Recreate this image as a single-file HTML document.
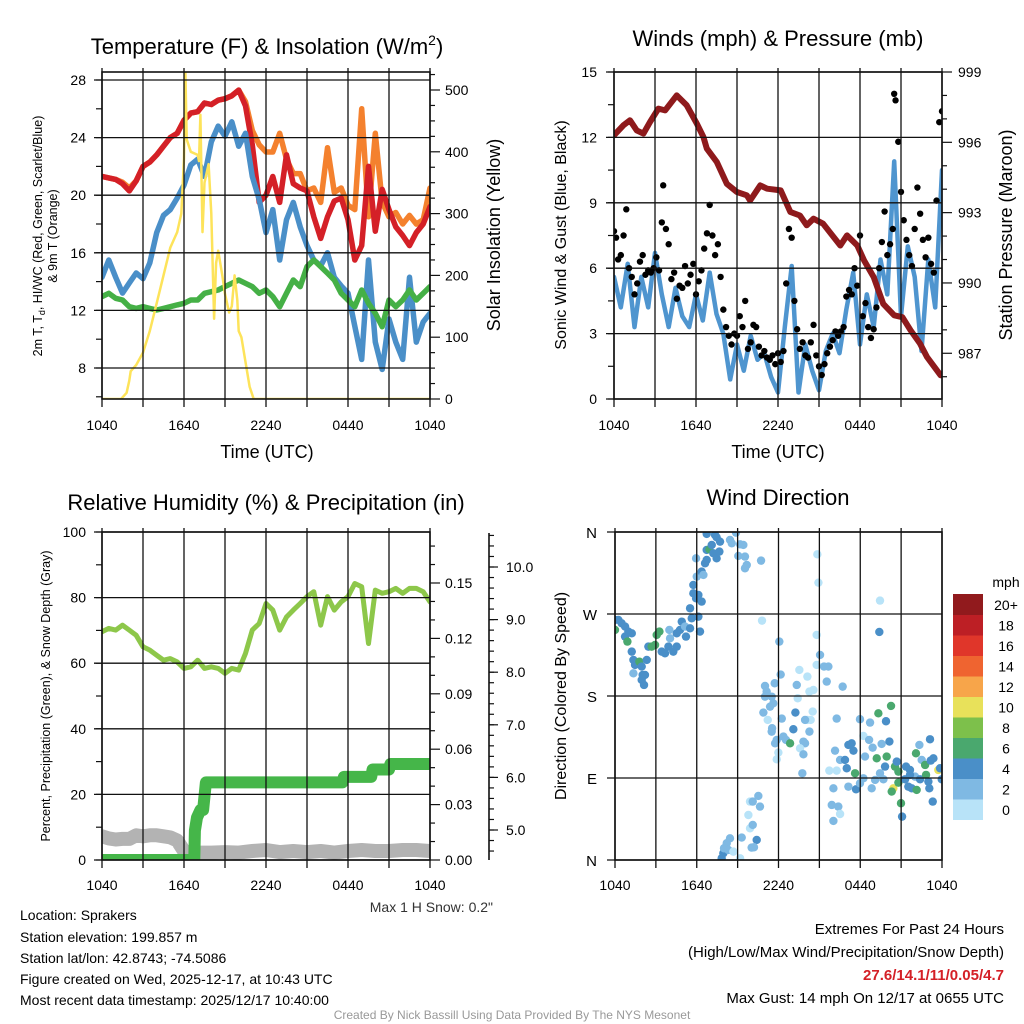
<!DOCTYPE html>
<html><head><meta charset="utf-8"><style>
html,body{margin:0;padding:0;background:#fff;}
svg{display:block;font-family:"Liberation Sans",sans-serif;}
</style></head><body>
<svg id="chart" width="1024" height="1024" viewBox="0 0 1024 1024" xmlns="http://www.w3.org/2000/svg">
<rect width="1024" height="1024" fill="#fff"/>
<defs>
<clipPath id="c1"><rect x="102" y="72" width="328" height="327"/></clipPath>
<clipPath id="c2"><rect x="614" y="72" width="328" height="327"/></clipPath>
<clipPath id="c3"><rect x="102" y="532" width="328" height="328"/></clipPath>
<clipPath id="c4"><rect x="615" y="532" width="327" height="328"/></clipPath>
</defs>
<g font-size="22" fill="#000" text-anchor="middle">
<text x="267" y="54">Temperature (F) &amp; Insolation (W/m<tspan font-size="14" dy="-9">2</tspan><tspan dy="9">)</tspan></text>
<text x="778" y="46">Winds (mph) &amp; Pressure (mb)</text>
<text x="266" y="510">Relative Humidity (%) &amp; Precipitation (in)</text>
<text x="778" y="505">Wind Direction</text>
</g>
<g font-size="18" text-anchor="middle">
<text x="267" y="458">Time (UTC)</text>
<text x="778" y="458">Time (UTC)</text>
<text transform="translate(500,235) rotate(-90)">Solar Insolation (Yellow)</text>
<text transform="translate(1012,235) rotate(-90)">Station Pressure (Maroon)</text>
</g>
<g font-size="16" text-anchor="middle">
<text transform="translate(566,235) rotate(-90)">Sonic Wind &amp; Gust (Blue, Black)</text>
<text transform="translate(566,696) rotate(-90)">Direction (Colored By Speed)</text>
</g>
<g font-size="12.5" text-anchor="middle">
<text transform="translate(42,236) rotate(-90)">2m T, T<tspan font-size="9" dy="3">d</tspan><tspan dy="-3">, HI/WC (Red, Green, Scarlet/Blue)</tspan></text>
<text transform="translate(57,236) rotate(-90)">&amp; 9m T (Orange)</text>
<text transform="translate(50,696) rotate(-90)">Percent, Precipitation (Green), &amp; Snow Depth (Gray)</text>
</g>
<g font-size="14">
<text x="493" y="912" text-anchor="end" fill="#333">Max 1 H Snow: 0.2"</text>
<text x="20" y="920">Location: Sprakers</text>
<text x="20" y="942">Station elevation: 199.857 m</text>
<text x="20" y="963">Station lat/lon: 42.8743; -74.5086</text>
<text x="20" y="984">Figure created on Wed, 2025-12-17, at 10:43 UTC</text>
<text x="20" y="1005">Most recent data timestamp: 2025/12/17 10:40:00</text>
<text x="1004" y="934" text-anchor="end" font-size="15">Extremes For Past 24 Hours</text>
<text x="1004" y="957" text-anchor="end" font-size="15">(High/Low/Max Wind/Precipitation/Snow Depth)</text>
<text x="1004" y="980" text-anchor="end" font-size="15" font-weight="bold" fill="#d42027">27.6/14.1/11/0.05/4.7</text>
<text x="1004" y="1003" text-anchor="end" font-size="15">Max Gust: 14 mph On 12/17 at 0655 UTC</text>
<text x="512" y="1019" text-anchor="middle" font-size="12" fill="#999">Created By Nick Bassill Using Data Provided By The NYS Mesonet</text>
</g>
</svg>
<script>
// ---------- DATA ----------
const hourTicks = ["1040","1640","2240","0440","1040"];
const halfHours = [];
for (let i = 0; i <= 48; i++) halfHours.push(i * 0.5);
const tempRed = [21.3,21.2,21.1,20.8,20.3,21,22,22.3,22.8,23.4,24,24.3,25.2,25.7,25.8,26.4,26.3,26.6,26.7,26.9,27.3,26.2,23.5,19.5,20,21.3,19.5,22.8,20.8,20.5,20.3,18.5,17,18.5,19.6,19.8,18.3,15.5,16.5,22,17.5,20.4,19,17.8,17.2,16.5,17.4,18,19.2];
const tempOrange = [21.3,21.2,21.1,20.9,20.5,21,22,22.3,22.8,23.4,24,24.3,25.2,25.7,25.8,26.4,26.3,26.6,26.7,26.9,27.3,26.5,24.5,23.5,23,23,24.3,22.5,21.5,21.5,20.3,20.5,19.5,23.3,20.2,20.5,19.3,19,26,18.5,24.3,19.5,18.5,18.8,18,18.6,18,18.3,20.5];
const tempBlue = [14.3,15.5,14.3,13.2,13.9,14.6,14.2,15.3,17.4,18.6,19,19.8,20.7,22.1,22.5,21.3,23.7,24.8,24.1,25.1,23.4,24.3,21.3,19.7,17.4,19,15.5,18.3,19.5,17.8,16.5,15.5,15.1,16,14.3,13.7,13.2,10.9,8.6,15.5,9.8,7.9,11.4,9.8,8.6,14.3,9.8,11.2,11.8];
const tempGreen = [12.96,13.19,12.84,12.72,12.26,12.14,12.26,12.14,12.03,12.14,12.26,12.38,12.49,12.72,12.72,13.19,13.3,13.42,13.65,13.88,14.11,13.88,13.65,13.19,13.42,12.96,12.26,13.19,14.11,13.65,15.04,15.5,15.04,14.58,14.11,13.19,12.72,12.26,13.42,12.49,11.8,10.87,12.72,12.26,12.72,13.42,12.72,13.19,13.65];
const solarTimes = [0,1.4,1.8,2.0,2.1,2.5,3.0,3.5,4.0,4.5,5.0,5.5,5.8,6.0,6.1,6.2,6.5,7.0,7.1,7.2,7.35,7.5,7.8,8.0,8.2,8.35,8.5,8.8,9.0,9.3,9.5,9.7,9.9,10.0,10.2,10.5,10.8,11.1,24];
const solarValues = [0,0,10,30,45,55,75,110,155,200,245,270,300,390,530,420,400,395,385,460,270,350,380,300,130,220,240,200,170,140,150,200,160,110,100,60,20,0,0];

const windSpeed = [5.6,4.2,6.2,3.3,5.6,4.2,6.7,4.8,3.3,5.1,3.8,3.3,4.8,3.6,5.8,3.9,3.0,0.9,2.5,1.3,2.9,1.8,2.1,1.0,0.3,3.3,6.1,0.3,2.5,1.3,0.4,2.2,3.0,2.1,4.1,5.8,2.5,4.8,3.3,6.4,4.8,10.9,3.8,7.0,5.6,2.2,6.4,4.2,10.5];
const gustTimes = [0,0.15,0.3,0.5,0.7,0.9,1.1,1.3,1.5,1.7,1.9,2.1,2.3,2.5,2.7,2.9,3.1,3.3,3.5,3.6,3.8,4.0,4.2,4.4,4.6,4.8,5.0,5.2,5.4,5.6,5.8,6.0,6.2,6.4,6.6,6.8,7.0,7.2,7.4,7.6,7.8,8.0,8.2,8.4,8.6,8.8,9.0,9.2,9.4,9.6,9.8,10.0,10.2,10.4,10.6,10.8,11.0,11.2,11.4,11.6,11.8,12.0,12.2,12.4,12.6,12.8,13.0,13.2,13.4,13.6,13.8,14.0,14.2,14.4,14.6,14.8,15.0,15.2,15.4,15.6,15.8,16.0,16.2,16.4,16.6,16.8,17.0,17.2,17.4,17.6,17.8,18.0,18.2,18.4,18.6,18.8,19.0,19.2,19.4,19.6,19.8,20.0,20.2,20.4,20.5,20.6,20.8,21.0,21.2,21.4,21.6,21.8,22.0,22.2,22.4,22.6,22.8,23.0,23.2,23.4,23.6,23.8,24.0];
const gustValues = [7.7,7.4,6.4,6.6,7.5,8.7,6.0,5.6,4.8,5.3,6.3,6.6,5.7,5.9,5.8,6.0,6.5,5.9,8.1,9.8,7.8,7.1,5.5,5.8,4.6,5.2,5.1,6.1,5.3,5.7,6.2,4.8,5.4,5.9,6.9,7.6,8.9,7.5,6.6,7.1,5.6,4.1,3.3,2.9,2.5,3.0,2.9,3.8,3.3,4.5,2.3,2.6,3.4,3.3,2.4,2.0,2.2,1.9,1.8,2.0,1.6,2.1,1.7,2.2,5.3,7.8,7.4,4.5,3.2,2.3,2.6,2.0,1.9,2.6,3.4,2.0,1.5,1.1,1.6,2.1,2.4,2.7,3.1,2.9,3.1,3.3,4.7,5.0,4.8,6.0,5.2,7.5,3.8,4.4,3.3,2.8,3.2,4.2,6.0,7.2,8.6,6.6,7.1,7.8,14.0,13.7,11.8,9.5,8.2,7.3,6.6,6.1,7.8,9.7,8.5,7.3,6.5,7.4,6.2,5.8,9.1,12.7,13.2];
const pressureTimes = [0,0.68,1.17,1.66,2.15,2.64,3.25,3.74,4.59,5.32,6.06,6.54,6.79,7.52,8.25,8.99,9.72,9.96,10.7,11.2,12.2,12.9,13.6,14.1,14.6,15.3,16.56,17.05,17.8,18.3,19.0,19.7,20.5,21.1,21.7,22.4,22.9,23.9];
const pressureValues = [996.3,996.72,996.94,996.51,996.37,996.87,997.44,997.36,998.0,997.58,996.8,996.23,995.73,995.16,994.23,993.88,993.74,993.52,994.16,994.02,993.95,993.03,992.88,992.46,992.74,992.53,991.6,992.03,991.6,990.96,990.25,989.11,988.62,988.54,987.98,987.41,986.84,986.06];

const rhValues = [69.6,70.6,70.1,71.6,70.1,68.5,65,64,62.4,60.9,61.4,60.4,58.4,58.9,60.9,58.4,58.9,58.4,56.9,58.4,57.9,63,70.1,72.1,78.2,76.2,70.1,74.1,76.2,78.2,80.3,81.8,71.6,80.3,76.2,78.7,80.3,84.3,83.3,66,82.3,81.3,81.8,82.8,81.3,82.8,82.8,81.8,78.7];
const precipTimes = [0,6.75,6.8,6.95,7.2,7.4,7.6,17.6,17.7,19.7,19.8,21.0,21.1,24];
const precipValues = [0,0,0.016,0.023,0.027,0.027,0.042,0.042,0.045,0.045,0.049,0.049,0.052,0.052];
const snowTimes = [0,0.5,1,1.5,2,2.5,3,3.5,4,4.5,5,5.5,6,6.5,7,8,9,10,11,12,13,14,15,16,17,18,19,20,21,22,23,24];
const snowValues = [4.88,4.84,4.82,4.83,4.83,4.9,4.88,4.9,4.9,4.88,4.86,4.8,4.6,4.57,4.57,4.57,4.58,4.57,4.6,4.62,4.58,4.6,4.58,4.6,4.57,4.6,4.62,4.6,4.6,4.62,4.62,4.6];

const dirTimes = [0,0.25,0.49,0.74,0,0.74,0.98,1.23,0.91,1.23,1.35,1.47,1.35,1.79,1.96,2.03,2.2,1.96,2.13,2.33,2.45,2.69,2.94,3.06,3.26,3.43,3.67,3.92,4.04,3.99,4.28,4.53,4.53,4.77,4.9,5.14,5.21,5.51,5.63,5.51,6.12,6.24,5.95,5.75,6.12,6.36,5.75,6,6.36,6.49,6.61,6.73,5.95,6.73,6.93,7.1,7.22,7.46,7.66,6.73,7.34,7.46,7.71,8.44,8.57,8.88,9.18,9.42,9.05,9.54,9.54,9.67,10.72,14.85,14.93,19.45,19.4,10.79,
12.06,14.8,15.05,14.8,15.34,15.66,15.54,16.71,12.16,11.72,11.01,11.13,11.01,11.5,11.62,11.38,10.89,11.21,12.24,11.53,11.5,11.87,11.75,11.99,11.87,12.36,12.55,12.85,13.09,13.24,13.41,13.53,13.34,14.12,14.27,14.56,14.51,14.36,14.12,13.95,14.27,13.83,13.95,13.58,13.83,13.75,
7.83,7.95,8.2,8,8.32,8.69,8.44,9.18,9.3,9.91,10.11,9.79,9.91,10.11,10.52,10.64,10.4,10.03,10.2,
15.73,16.27,16.03,15.91,16.39,16.03,16.52,16.15,16.27,16.52,16.88,17.01,17.13,17.37,17.5,17.13,17.62,17.69,17.98,18.23,18.35,17.98,18.23,18.72,18.65,18.91,18.84,19.21,19.33,19.57,19.89,19.94,19.82,20.14,20.26,20.43,20.31,20.55,20.68,20.8,20.8,20.99,21.07,21.29,21.36,21.65,21.53,21.78,22.02,22.14,22.09,22.34,22.39,22.51,22.76,22.83,23,23.07,23.12,23.17,23.32,23.37,23.73,23.86,23.98,19.09,19.45,19.7,21.65];
const dirDegrees = [263.5,263.5,259.8,256.2,252.5,245.2,250.7,248.8,239.7,228.7,219.6,214.1,204.9,217.7,212.3,203.1,203.1,197.6,192.1,219.6,234.2,234.2,236,247,250.7,228.7,226.9,234.2,243.3,252.5,228.7,234.2,248.8,252.5,261.6,256.2,245.2,254.3,265.3,276.3,267.1,250.7,287.2,292.7,290.9,283.6,301.9,311,316.5,312.9,325.7,329.3,331.1,340.3,341,345.8,336.6,331.1,338.5,357.9,356.8,354.2,349.4,351.3,347.6,359.3,346.5,345.8,333.7,333,320.2,323.8,328.6,335.5,304.4,284.7,250.3,262.7,
239.7,247,225.1,214.1,212.3,212.3,195.8,190.3,203.5,194,191,184.8,179.3,179.3,172,168.3,161.8,153.7,155.2,144.6,140.9,131.8,128.1,117.9,110.5,135.4,131.8,128.1,143.5,161.8,177.5,208.6,192.1,201.3,184.8,186.6,162.9,153.7,153.7,153.7,140.9,129.9,128.1,122.6,116,95.2,
1.9,7.4,18.4,12.9,11,9.2,23.8,1.9,24.6,34.8,38.5,49.4,64.1,64.1,70.3,58.6,22,13.6,14,
98.1,98.1,78.7,60.4,58.6,42.9,50.5,120,155.2,109.8,109.8,100.7,126.3,128.1,120,80.5,95.2,77.6,154.5,136.2,113.5,84.2,89.7,150.8,131.8,123.3,78.7,111.6,161,127.4,152.3,113.5,102.5,130,169.1,78.7,75.1,102.5,108,97,84.9,62.3,47.6,88.6,102.5,98.8,80.5,78.7,91.5,76.9,117.1,126.3,88.6,109.8,104.3,93.4,86,78.7,132.5,109.1,64.1,111.6,98.8,100.7,88.6,87.9,95.2,88.6,93.4];
const dirSpeeds = [4.5,4.5,4.5,4.5,6.5,4.5,4.5,4.5,6.5,4.5,4.5,4.5,3,6.5,4.5,4.5,4.5,4.5,4.5,4.5,4.5,6.5,6.5,6.5,6.5,4.5,4.5,4.5,3,3,4.5,4.5,4.5,4.5,4.5,3,4.5,4.5,4.5,4.5,4.5,4.5,4.5,4.5,4.5,4.5,4.5,3,4.5,3,4.5,4.5,3,4.5,6.5,4.5,4.5,4.5,4.5,4.5,4.5,4.5,4.5,3,3,3,3,3,3,3,3,3,3,1,1,1,4.5,1,
3,1,3,1,3,3,3,3,3,3,3,3,3,3,3,3,3,1,3,3,3,3,3,1,1,3,3,6.5,4.5,4.5,1,1,3,1,1,1,1,1,1,3,3,3,3,1,3,3,
4.5,4.5,3,3,3,1,3,1,3,1,3,1,1,3,3,3,4.5,3,3,
1,1,3,3,3,3,1,3,3,3,4.5,4.5,4.5,4.5,4.5,3,6.5,4.5,3,1,3,3,3,3,3,3,3,6.5,6.5,3,4.5,6.5,4.5,4.5,6.5,10.5,6.5,6.5,4.5,6.5,6.5,6.5,4.5,4.5,4.5,4.5,4.5,4.5,3,6.5,6.5,3,4.5,3,6.5,6.5,4.5,4.5,4.5,4.5,4.5,4.5,10.5,4.5,4.5,3,3,3,4.5];
const speedBinLabels = ["0","2","4","6","8","10","12","14","16","18","20+"];
const speedBinColors = ["#b8e3f8","#7fb9e3","#4a8fc8","#4aa86e","#7dc04b","#e8e15a","#f7a54a","#ef6430","#e0362a","#bd1f25","#911a1d"];

// ---------- HELPERS ----------
const NS = "http://www.w3.org/2000/svg";
const svg = document.getElementById('chart');
function mk(tag, attrs, parent) {
  const e = document.createElementNS(NS, tag);
  for (const k in attrs) e.setAttribute(k, attrs[k]);
  (parent || svg).appendChild(e);
  return e;
}
function txt(x, y, s, anchor, size, parent) {
  const t = mk('text', {x: x, y: y, 'text-anchor': anchor, 'font-size': size}, parent);
  t.textContent = s;
  return t;
}
function pathFrom(xs, ys, fx, fy) {
  return xs.map((v, i) => (i ? 'L' : 'M') + fx(v).toFixed(1) + ',' + fy(ys[i]).toFixed(1)).join('');
}
function frame(x0, y0, x1, y1, nx, hLines, parent) {
  const g = mk('g', {stroke: '#111', 'stroke-width': 1.3, fill: 'none'}, parent);
  for (let i = 0; i <= nx; i++) {
    const x = x0 + (x1 - x0) * i / nx;
    mk('line', {x1: x, y1: y0 - 4, x2: x, y2: y1 + 8}, g);
  }
  hLines.forEach(y => mk('line', {x1: x0 - 8, y1: y, x2: x1, y2: y}, g));
  mk('rect', {x: x0, y: y0, width: x1 - x0, height: y1 - y0, 'stroke-width': 1.6}, g);
  return g;
}
function xLabels(x0, x1, y, parent) {
  hourTicks.forEach((s, i) => txt(x0 + (x1 - x0) * i / 4, y, s, 'middle', 14, parent));
}

// ---------- PANEL 1 ----------
const p1 = mk('g', {});


const x1 = h => 102 + h * 13.667;
const yT = t => 80 + (28 - t) * 14.4;
const yI = w => 399 - w * 0.618;
const p1data = mk('g', {'clip-path': 'url(#c1)', fill: 'none', 'stroke-linejoin': 'round', 'stroke-linecap': 'round'}, p1);
const sOr = mk('path', {d: pathFrom(halfHours, tempOrange, x1, yT), stroke: '#f4812e', 'stroke-width': 5.5}, p1data);


const sRed = mk('path', {d: pathFrom(halfHours, tempRed, x1, yT), stroke: '#d42027', 'stroke-width': 5.5}, p1data);


const sBlue = mk('path', {d: pathFrom(halfHours, tempBlue, x1, yT), stroke: '#4a8fc8', 'stroke-width': 5.5}, p1data);


const sGreen = mk('path', {d: pathFrom(halfHours, tempGreen, x1, yT), stroke: '#45b046', 'stroke-width': 5.5}, p1data);


const sSol = mk('path', {d: pathFrom(solarTimes, solarValues, x1, yI), stroke: '#fde35a', 'stroke-width': 2.5}, p1data);


frame(102, 72, 430, 399, 8, [8,12,16,20,24,28].map(yT), p1);
const p1ax = mk('g', {stroke: '#111', 'stroke-width': 1.2}, p1);
for (let t = 6; t <= 28; t += 2) mk('line', {x1: 96, y1: yT(t), x2: 102, y2: yT(t)}, p1ax);
for (let w = 0; w <= 525; w += 25) mk('line', {x1: 430, y1: yI(w), x2: w % 100 === 0 ? 440 : 435, y2: yI(w)}, p1ax);
const p1lab = mk('g', {}, p1);
[8,12,16,20,24,28].forEach(t => txt(86, yT(t) + 5, String(t), 'end', 14, p1lab));
[0,100,200,300,400,500].forEach(w => txt(445, yI(w) + 5, String(w), 'start', 14, p1lab));
xLabels(102, 430, 430, p1lab);

// ---------- PANEL 2 ----------
const p2 = mk('g', {});


const x2 = h => 614 + h * 13.667;
const yW = s => 399 - s * 21.8;
const yP = p => 72 + (999 - p) * 23.44;
const p2data = mk('g', {'clip-path': 'url(#c2)', fill: 'none', 'stroke-linejoin': 'round', 'stroke-linecap': 'round'}, p2);
const sWind = mk('path', {d: pathFrom(halfHours, windSpeed, x2, yW), stroke: '#4f95cf', 'stroke-width': 4.5}, p2data);


const gustG = mk('g', {fill: '#000'}, p2data);


gustTimes.forEach((h, i) => {
  const c = mk('circle', {cx: x2(h), cy: yW(gustValues[i]), r: 3.2}, gustG);
  
  
});
const sPres = mk('path', {d: pathFrom(pressureTimes, pressureValues, x2, yP), stroke: '#8e1a1c', 'stroke-width': 6}, p2data);


frame(614, 72, 942, 399, 8, [0,3,6,9,12,15].map(yW), p2);
const p2ax = mk('g', {stroke: '#111', 'stroke-width': 1.2}, p2);
for (let s = 0; s <= 15; s += 1.5) mk('line', {x1: 608, y1: yW(s), x2: 614, y2: yW(s)}, p2ax);
for (let p = 986; p <= 999; p += 1) mk('line', {x1: 942, y1: yP(p), x2: p % 3 === 0 ? 952 : 947, y2: yP(p)}, p2ax);
const p2lab = mk('g', {}, p2);
[0,3,6,9,12,15].forEach(s => txt(597, yW(s) + 5, String(s), 'end', 14, p2lab));
[987,990,993,996,999].forEach(p => txt(958, yP(p) + 5, String(p), 'start', 14, p2lab));
xLabels(614, 942, 430, p2lab);

// ---------- PANEL 3 ----------
const p3 = mk('g', {});


const x3 = h => 102 + h * 13.667;
const yR = r => 860 - r * 3.28;
const yPr = v => 860 - v * 1846.7;
const ySn = s => 830 - (s - 5) * 52.6;
const p3data = mk('g', {'clip-path': 'url(#c3)', fill: 'none', 'stroke-linejoin': 'round', 'stroke-linecap': 'round'}, p3);
const sSnow = mk('path', {d: pathFrom(snowTimes, snowValues, x3, ySn), stroke: '#b3b3b3', 'stroke-width': 14}, p3data);


const sPrec = mk('path', {d: pathFrom(precipTimes, precipValues, x3, yPr), stroke: '#45b649', 'stroke-width': 12}, p3data);


const sRH = mk('path', {d: pathFrom(halfHours, rhValues, x3, yR), stroke: '#8dc74a', 'stroke-width': 5}, p3data);


frame(102, 532, 430, 860, 8, [0,20,40,60,80,100].map(yR), p3);
const p3ax = mk('g', {stroke: '#111', 'stroke-width': 1.2}, p3);
for (let r = 0; r <= 100; r += 10) mk('line', {x1: 96, y1: yR(r), x2: 102, y2: yR(r)}, p3ax);
for (let i = 0; i <= 17; i++) { const v = i * 0.01; mk('line', {x1: 430, y1: yPr(v), x2: i % 3 === 0 ? 440 : 435, y2: yPr(v)}, p3ax); }
mk('line', {x1: 489, y1: 533, x2: 489, y2: 860, 'stroke-width': 1.6}, p3ax);
for (let s = 4.6; s <= 10.75; s += 0.2) mk('line', {x1: 489, y1: ySn(s), x2: 494, y2: ySn(s)}, p3ax);
for (let s = 5; s <= 10; s += 1) mk('line', {x1: 489, y1: ySn(s), x2: 498, y2: ySn(s)}, p3ax);
const p3lab = mk('g', {}, p3);
[0,20,40,60,80,100].forEach(r => txt(86, yR(r) + 5, String(r), 'end', 14, p3lab));
["0.00","0.03","0.06","0.09","0.12","0.15"].forEach(v => txt(445, yPr(parseFloat(v)) + 5, v, 'start', 14, p3lab));
["5.0","6.0","7.0","8.0","9.0","10.0"].forEach(v => txt(506, ySn(parseFloat(v)) + 5, v, 'start', 14, p3lab));
xLabels(102, 430, 890, p3lab);

// ---------- PANEL 4 ----------
const p4 = mk('g', {});


const x4 = h => 615 + h * 13.625;
const yD = d => 860 - d * 0.9111;
const colorFor = s => speedBinColors[Math.min(10, Math.floor(s / 2))];
const p4data = mk('g', {'clip-path': 'url(#c4)'}, p4);
dirTimes.forEach((h, i) => {
  const c = mk('circle', {cx: x4(h), cy: yD(dirDegrees[i]), r: 4.2, fill: colorFor(dirSpeeds[i])}, p4data);
  
  
});
frame(615, 532, 942, 860, 8, [0,90,180,270,360].map(yD), p4);
const p4lab = mk('g', {}, p4);
["N","E","S","W","N"].forEach((s, i) => txt(597, yD(i * 90) + 6, s, 'end', 15, p4lab));
xLabels(615, 942, 890, p4lab);
// colorbar
const cb = mk('g', {}, p4);


txt(1006, 587, 'mph', 'middle', 14, cb);
speedBinColors.forEach((c, i) => {
  const top = 594 + (10 - i) * 20.5;
  const r = mk('rect', {x: 953, y: top, width: 30, height: 21, fill: c}, cb);
  
  
  txt(1006, top + 16, speedBinLabels[i], 'middle', 14, cb);
});
</script>
</body></html>
